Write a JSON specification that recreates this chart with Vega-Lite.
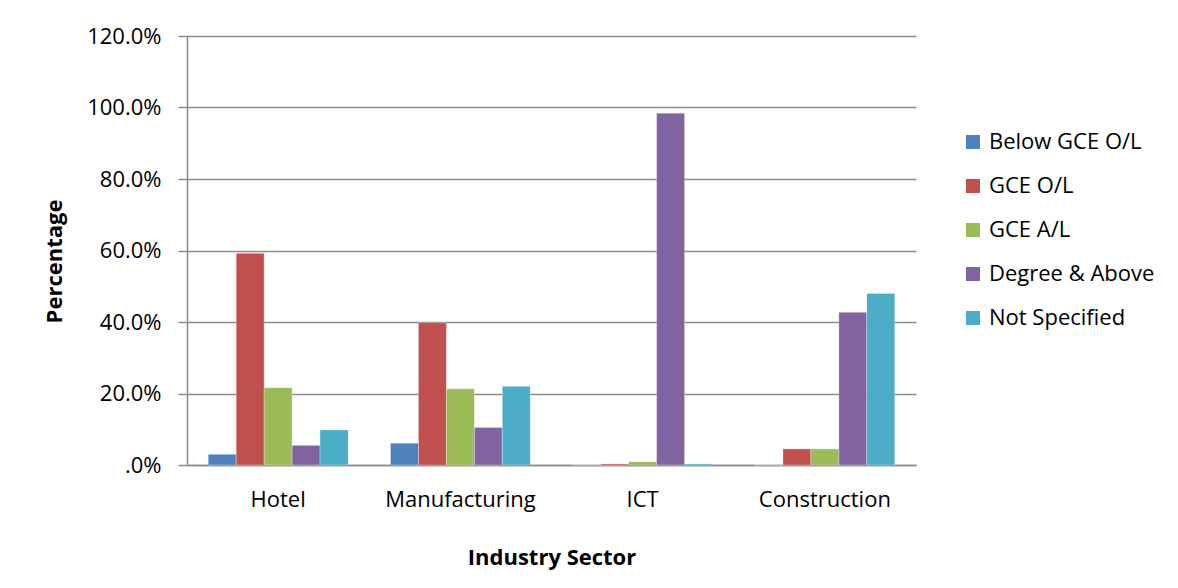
{
  "$schema": "https://vega.github.io/schema/vega-lite/v6.json",
  "autosize": "none",
  "width": 729,
  "height": 429,
  "padding": {"left": 187, "top": 36, "right": 262, "bottom": 123},
  "background": "white",
  "data": {
    "values": [
      {"sector": "Hotel", "level": "Below GCE O/L", "pct": 3.0},
      {"sector": "Hotel", "level": "GCE O/L", "pct": 59.2},
      {"sector": "Hotel", "level": "GCE A/L", "pct": 21.6},
      {"sector": "Hotel", "level": "Degree & Above", "pct": 5.5},
      {"sector": "Hotel", "level": "Not Specified", "pct": 9.8},
      {"sector": "Manufacturing", "level": "Below GCE O/L", "pct": 6.1},
      {"sector": "Manufacturing", "level": "GCE O/L", "pct": 39.8},
      {"sector": "Manufacturing", "level": "GCE A/L", "pct": 21.3},
      {"sector": "Manufacturing", "level": "Degree & Above", "pct": 10.5},
      {"sector": "Manufacturing", "level": "Not Specified", "pct": 22.0},
      {"sector": "ICT", "level": "Below GCE O/L", "pct": 0.0},
      {"sector": "ICT", "level": "GCE O/L", "pct": 0.3},
      {"sector": "ICT", "level": "GCE A/L", "pct": 0.9},
      {"sector": "ICT", "level": "Degree & Above", "pct": 98.4},
      {"sector": "ICT", "level": "Not Specified", "pct": 0.3},
      {"sector": "Construction", "level": "Below GCE O/L", "pct": 0.0},
      {"sector": "Construction", "level": "GCE O/L", "pct": 4.5},
      {"sector": "Construction", "level": "GCE A/L", "pct": 4.5},
      {"sector": "Construction", "level": "Degree & Above", "pct": 42.7},
      {"sector": "Construction", "level": "Not Specified", "pct": 48.0}
    ]
  },
  "mark": {"type": "bar", "stroke": "white", "strokeWidth": 0.5, "strokeOpacity": 0.6},
  "encoding": {
    "x": {
      "field": "sector",
      "type": "nominal",
      "sort": ["Hotel", "Manufacturing", "ICT", "Construction"],
      "scale": {"paddingInner": 0.233, "paddingOuter": 0.1165},
      "axis": {
        "title": "Industry Sector",
        "labelAngle": 0,
        "ticks": false,
        "domainColor": "#8c8c8c",
        "domainWidth": 1.5,
        "labelPadding": 24,
        "titlePadding": 37
      }
    },
    "xOffset": {
      "field": "level",
      "type": "nominal",
      "sort": ["Below GCE O/L", "GCE O/L", "GCE A/L", "Degree & Above", "Not Specified"],
      "scale": {"paddingInner": 0, "paddingOuter": 0}
    },
    "y": {
      "field": "pct",
      "type": "quantitative",
      "scale": {"domain": [0, 120], "nice": false},
      "axis": {
        "title": "Percentage",
        "titleY": 225,
        "values": [0, 20, 40, 60, 80, 100, 120],
        "labelExpr": "datum.value == 0 ? '.0%' : format(datum.value, '.1f') + '%'",
        "tickSize": 9,
        "tickColor": "#8c8c8c",
        "tickWidth": 1.5,
        "domainColor": "#8c8c8c",
        "domainWidth": 1.5,
        "labelPadding": 17,
        "titlePadding": 20,
        "grid": true,
        "gridColor": "#8c8c8c",
        "gridWidth": 1.5
      }
    },
    "color": {
      "field": "level",
      "type": "nominal",
      "sort": ["Below GCE O/L", "GCE O/L", "GCE A/L", "Degree & Above", "Not Specified"],
      "scale": {
        "domain": ["Below GCE O/L", "GCE O/L", "GCE A/L", "Degree & Above", "Not Specified"],
        "range": ["#4F81BD", "#C0504D", "#9BBB59", "#8064A2", "#4BACC6"]
      },
      "legend": {
        "title": null,
        "orient": "none",
        "legendX": 775,
        "legendY": 95,
        "symbolType": "square",
        "symbolSize": 196,
        "symbolStrokeWidth": 0,
        "symbolOpacity": 1,
        "labelFontSize": 22,
        "labelFont": "Open Sans",
        "labelColor": "#000000",
        "labelOffset": 5,
        "labelLimit": 300,
        "rowPadding": 22
      }
    }
  },
  "config": {
    "view": {"stroke": null},
    "axis": {
      "labelFont": "Open Sans",
      "labelFontSize": 22,
      "labelColor": "#000000",
      "titleFont": "Open Sans",
      "titleFontSize": 22,
      "titleFontWeight": "bold",
      "titleColor": "#000000"
    }
  }
}
